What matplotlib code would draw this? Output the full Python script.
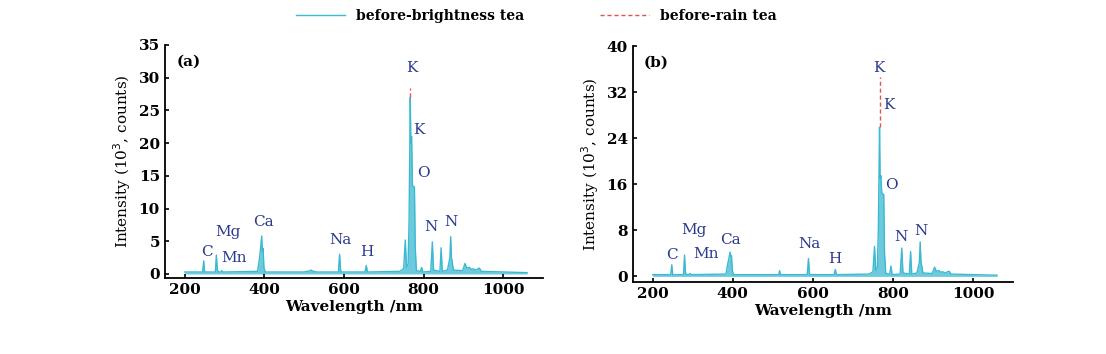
import matplotlib.pyplot as plt

plt.rcParams['font.family'] = ['DejaVu Serif']

# wavelength grid (nm) and intensities (10^3 counts)
wl = [200, 245, 247.8, 250, 277, 279.5, 282, 285, 290, 293, 296,
      383, 387, 390, 393.4, 395, 396.8, 399, 402,
      500, 515, 517, 519, 530, 586, 589, 592, 653, 656, 659,
      740, 750, 754, 757, 761, 763.5, 766.5, 768, 769.9, 772, 777, 779, 782,
      792, 795, 798, 818, 822, 825, 841, 844, 847,
      860, 866, 868, 870, 875, 898, 904, 908, 915, 920, 925, 930, 940, 945, 1060]

int_a = [0.3, 0.3, 2.0, 0.3, 0.3, 2.9, 0.6, 0.3, 0.3, 0.5, 0.3,
         0.4, 2.0, 3.6, 5.8, 3.5, 3.9, 1.0, 0.3,
         0.3, 0.5, 0.6, 0.5, 0.3, 0.3, 3.0, 0.3, 0.3, 1.3, 0.3,
         0.4, 0.8, 5.2, 1.0, 1.5, 8.0, 27.0, 20.0, 21.0, 13.5, 13.3, 4.0, 0.5,
         0.4, 1.0, 0.3, 0.4, 4.9, 0.6, 0.4, 4.0, 0.4,
         0.6, 2.5, 5.7, 2.5, 0.6, 0.5, 1.6, 0.9, 1.0, 0.7, 0.8, 0.6, 0.9, 0.4, 0.2]

int_b = [0.3, 0.3, 2.0, 0.3, 0.3, 3.7, 0.6, 0.3, 0.3, 0.5, 0.3,
         0.4, 2.0, 3.0, 4.2, 3.5, 3.6, 1.0, 0.3,
         0.3, 0.3, 1.0, 0.3, 0.3, 0.3, 3.1, 0.3, 0.3, 1.2, 0.3,
         0.4, 0.8, 5.2, 1.0, 1.5, 8.0, 25.9, 17.0, 17.5, 14.5, 14.2, 4.0, 0.5,
         0.4, 1.8, 0.3, 0.4, 4.9, 0.6, 0.4, 4.3, 0.4,
         0.6, 2.5, 6.0, 2.5, 0.6, 0.5, 1.6, 0.9, 1.0, 0.7, 0.8, 0.6, 0.9, 0.4, 0.2]

# before-rain tea, only visible above the K peak
rain_wl_a = [766.5, 766.5]
rain_int_a = [27.0, 28.4]
rain_wl_b = [766.5, 766.5]
rain_int_b = [25.9, 34.6]

# element labels: (text, x, y)
labels_a = [('C', 255, 3.4), ('Mg', 308, 6.4), ('Mn', 323, 2.4), ('Ca', 398, 8.0),
            ('Na', 591, 5.2), ('H', 658, 3.4), ('K', 771, 31.5), ('K', 789, 22.0),
            ('O', 799, 15.4), ('N', 819, 7.2), ('N', 869, 8.0)]
labels_b = [('C', 248, 3.7), ('Mg', 303, 8.0), ('Mn', 333, 3.8), ('Ca', 393, 6.3),
            ('Na', 591, 5.6), ('H', 656, 3.1), ('K', 766, 36.2), ('K', 789, 29.7),
            ('O', 796, 15.8), ('N', 819, 6.8), ('N', 869, 7.8)]

cyan = '#3cb9d2'
red = '#e0554f'
lab_col = '#2b3a8c'

fig = plt.figure(figsize=(11.06, 3.54), dpi=100)
ax1 = fig.add_axes([0.149, 0.215, 0.342, 0.658])
ax2 = fig.add_axes([0.572, 0.203, 0.344, 0.667])

panels = [(ax1, int_a, rain_wl_a, rain_int_a, labels_a, '(a)', (-0.6, 35), [0, 5, 10, 15, 20, 25, 30, 35]),
          (ax2, int_b, rain_wl_b, rain_int_b, labels_b, '(b)', (-1.0, 40), [0, 8, 16, 24, 32, 40])]

for ax, ints, rwl, rint, labs, tag, ylim, yt in panels:
    ax.fill_between(wl, 0, ints, color=cyan, alpha=0.75, lw=0)
    l1, = ax.plot(wl, ints, color=cyan, lw=1.0, label='before-brightness tea')
    l2, = ax.plot(rwl, rint, color=red, lw=1.0, ls=(0, (3, 2)), label='before-rain tea')
    for t, x, y in labs:
        ax.text(x, y, t, color=lab_col, fontsize=11, ha='center', va='center')
    ax.text(0.03, 0.93, tag, transform=ax.transAxes, fontsize=11, fontweight='bold',
            ha='left', va='center')
    ax.set_xlim(150, 1100)
    ax.set_ylim(*ylim)
    ax.set_xticks([200, 400, 600, 800, 1000])
    ax.set_yticks(yt)
    ax.spines['top'].set_visible(False)
    ax.spines['right'].set_visible(False)
    ax.spines['left'].set_linewidth(1.3)
    ax.spines['bottom'].set_linewidth(1.3)
    ax.tick_params(direction='in', length=3, width=1.2, labelsize=11)
    for lbl in ax.get_xticklabels() + ax.get_yticklabels():
        lbl.set_fontweight('bold')
    ax.set_xlabel('Wavelength /nm', fontsize=11, fontweight='bold', labelpad=2)
    ax.set_ylabel('Intensity (10$^3$, counts)', fontsize=11, labelpad=4)

fig.legend(handles=[l1, l2], loc='upper center', bbox_to_anchor=(0.485, 1.01), ncol=2,
           frameon=False, prop={'size': 10, 'weight': 'bold'}, columnspacing=5.5,
           handlelength=3.5)

fig.savefig('out.png', dpi=100)
